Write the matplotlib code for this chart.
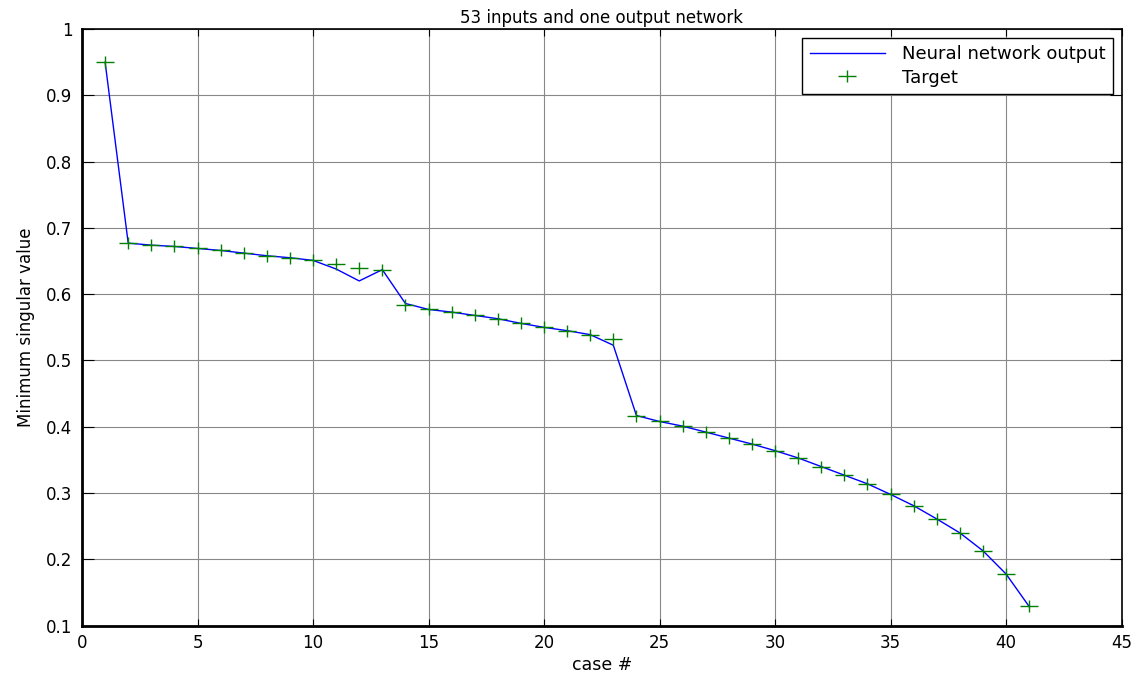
import matplotlib.pyplot as plt
from matplotlib.path import Path

# case numbers 1..41
cases = list(range(1, 42))

# target values
target = [0.950, 0.677, 0.674, 0.672, 0.669, 0.666, 0.662, 0.658, 0.655, 0.652,
          0.646, 0.640, 0.637, 0.583, 0.577, 0.573, 0.568, 0.563, 0.556, 0.550,
          0.545, 0.539, 0.533, 0.417, 0.408, 0.401, 0.392, 0.383, 0.374, 0.364,
          0.353, 0.340, 0.327, 0.314, 0.298, 0.281, 0.261, 0.240, 0.213, 0.178,
          0.129]

# network output, follows target except a few cases
output = [0.950, 0.677, 0.674, 0.672, 0.669, 0.666, 0.662, 0.658, 0.655, 0.651,
          0.638, 0.620, 0.637, 0.586, 0.577, 0.573, 0.568, 0.563, 0.556, 0.550,
          0.545, 0.539, 0.523, 0.417, 0.408, 0.401, 0.392, 0.383, 0.374, 0.364,
          0.353, 0.340, 0.327, 0.314, 0.298, 0.281, 0.261, 0.240, 0.213, 0.178,
          0.129]

plt.rcParams["font.family"] = ["DejaVu Sans"]

# the original picture is stretched sideways, so the plus marker is wider than tall
wide_plus = Path([(-1.5, 0), (1.5, 0), (0, -1), (0, 1)],
                 [Path.MOVETO, Path.LINETO, Path.MOVETO, Path.LINETO])

fig = plt.figure(figsize=(11.47, 6.73), dpi=100)
ax = fig.add_axes([0.0715, 0.0703, 0.9063, 0.8866])

ax.plot(cases, output, color="#0000ff", lw=1, label="Neural network output", zorder=3)
ax.plot(cases, target, ls="none", marker=wide_plus, ms=13, mew=1, color="#008000",
        label="Target", zorder=4)

ax.set_xlim(0, 45)
ax.set_ylim(0.1, 1)
ax.set_xticks(range(0, 46, 5))
ax.set_yticks([0.1, 0.2, 0.3, 0.4, 0.5, 0.6, 0.7, 0.8, 0.9, 1])
ax.set_yticklabels(["0.1", "0.2", "0.3", "0.4", "0.5", "0.6", "0.7", "0.8", "0.9", "1"])
ax.tick_params(direction="in", top=True, right=True, labelsize=12)
ax.tick_params(axis="x", length=5, pad=6)
ax.tick_params(axis="y", length=8.5, pad=7)

ax.grid(True, color="#888888", lw=0.8)
ax.set_axisbelow(True)
for s in ax.spines.values():
    s.set_linewidth(1.2)
ax.spines["left"].set_linewidth(2)
ax.spines["bottom"].set_linewidth(2)

ax.set_title("53 inputs and one output network", fontsize=12, pad=4)
ax.set_xlabel("case #", fontsize=12.5, labelpad=3)
ax.set_ylabel("Minimum singular value", fontsize=12, labelpad=8)

leg = ax.legend(loc="upper right", fontsize=13, fancybox=False, framealpha=1,
                edgecolor="black", borderaxespad=0.5, handlelength=4.2,
                borderpad=0.4, labelspacing=0.3, handletextpad=0.9)
leg.get_frame().set_linewidth(1)

fig.savefig("out.png", dpi=100)
